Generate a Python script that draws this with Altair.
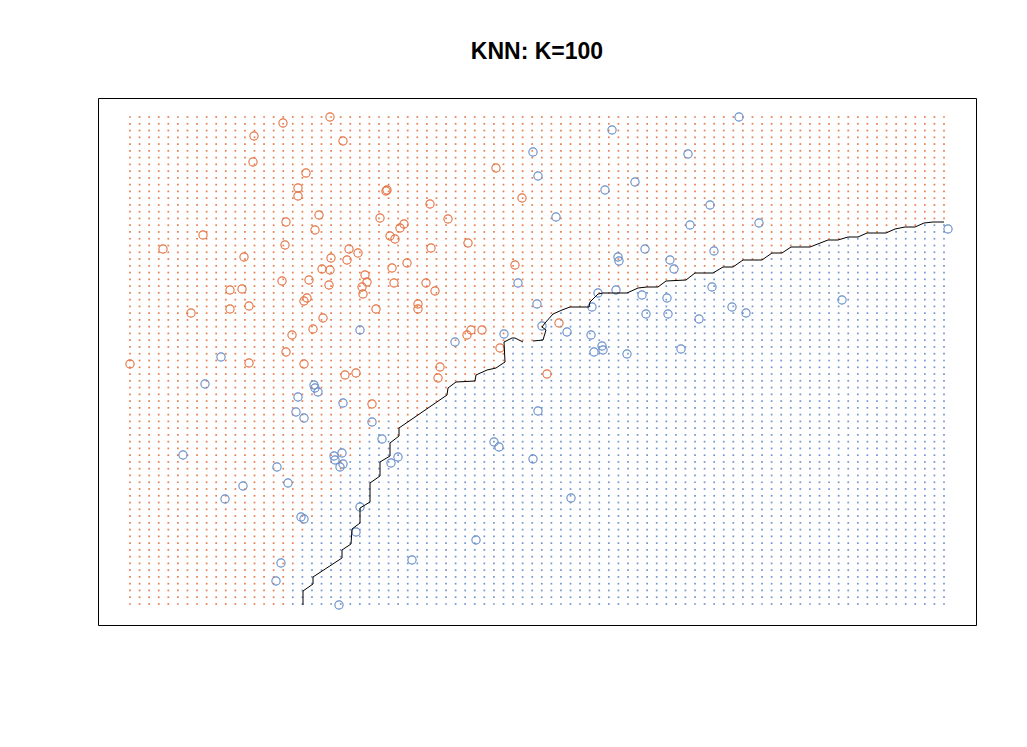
import altair as alt
import numpy as np
import pandas as pd

alt.data_transformers.disable_max_rows()

ORANGE = "#E3703F"
BLUE = "#648CC8"

# training points, orange class
orange_x1 = [2.00, 1.53, 1.24, 2.13, 1.23, 1.76, 1.68, 1.68, 2.57, 2.56,
             1.89, 2.50, 1.56, 1.85, 0.73, 2.60, 2.65, 1.55, 0.33, 2.19,
             2.28, 1.14, 2.01, 2.17, 1.92, 2.00, 2.62, 2.35, 2.37, 1.52,
             1.79, 1.99, 2.64, 2.32, 2.33, 1.00, 1.12, 1.77, 1.74, 1.00,
             1.19, 2.46, 0.61, 1.93, 1.83, 1.62, 1.56, 0.00, 1.19, 1.74,
             2.74, 2.70, 3.66, 3.92, 3.00, 3.18, 3.01, 3.38, 2.77, 3.85,
             2.96, 3.05, 2.88, 2.88, 3.52, 3.41, 3.37, 4.29, 3.70, 3.10,
             2.15, 2.26, 2.42, 3.08, 4.17]
orange_x2 = [4.87, 4.81, 4.68, 4.63, 4.42, 4.31, 4.16, 4.08, 4.14, 4.13,
             3.89, 3.86, 3.82, 3.74, 3.69, 3.68, 3.65, 3.59, 3.55, 3.55,
             3.51, 3.47, 3.46, 3.44, 3.35, 3.34, 3.36, 3.29, 3.22, 3.23,
             3.24, 3.19, 3.21, 3.17, 3.10, 3.14, 3.15, 3.06, 3.03, 2.95,
             2.98, 2.95, 2.91, 2.86, 2.75, 2.69, 2.52, 2.40, 2.41, 2.40,
             3.80, 3.76, 4.36, 4.06, 4.00, 3.85, 3.56, 3.61, 3.41, 3.39,
             3.21, 3.13, 3.00, 2.95, 2.74, 2.74, 2.69, 2.81, 2.56, 2.37,
             2.29, 2.31, 2.00, 2.26, 2.30]

# training points, blue class
blue_x1 = [2.30, 0.91, 0.75, 1.84, 1.85, 1.88, 1.68, 2.13, 1.66, 1.74,
           2.42, 2.52, 0.53, 2.12, 2.04, 2.05, 2.13, 2.10, 2.61, 2.68,
           1.47, 1.58, 1.13, 0.95, 2.30, 1.71, 1.74, 2.26, 1.51, 1.46,
           2.09, 4.82, 4.03, 5.58, 4.08, 5.05, 4.75, 4.26, 5.60, 5.15,
           4.88, 4.89, 5.40, 5.44, 3.88, 4.68, 4.86, 5.12, 5.37, 4.07,
           4.62, 5.16, 5.38, 4.12, 4.37, 4.61, 3.74, 3.25, 4.72, 4.73,
           4.64, 4.97, 5.51, 4.08, 3.64, 3.69, 4.03, 4.41, 3.46, 2.82,
           6.09, 5.80, 6.29, 5.84, 8.18, 5.82, 7.12, 6.02, 6.16, 5.69]
blue_x2 = [2.74, 2.47, 2.20, 2.19, 2.16, 2.12, 2.07, 2.01, 1.92, 1.86,
           1.82, 1.65, 1.49, 1.51, 1.48, 1.44, 1.40, 1.37, 1.41, 1.47,
           1.37, 1.21, 1.18, 1.05, 0.97, 0.87, 0.85, 0.72, 0.41, 0.23,
           -0.01, 4.74, 4.52, 4.50, 4.28, 4.22, 4.14, 3.87, 3.79, 3.55,
           3.47, 3.43, 3.44, 3.35, 3.21, 3.11, 3.14, 3.09, 3.06, 3.00,
           2.97, 2.90, 2.90, 2.78, 2.72, 2.69, 2.70, 2.62, 2.58, 2.54,
           2.52, 2.50, 2.55, 1.93, 1.62, 1.57, 1.45, 1.06, 0.64, 0.44,
           4.87, 3.99, 3.81, 3.53, 3.75, 3.17, 3.04, 2.97, 2.91, 2.85]

# K=100 decision boundary, drawn as two pieces
bound_a_x1 = [1.73, 1.73, 1.83, 1.83, 2.12, 2.12, 2.21, 2.22, 2.30, 2.30,
              2.40, 2.40, 2.50, 2.50, 2.60, 2.60, 2.69, 2.69, 3.17, 3.18,
              3.26, 3.45, 3.46, 3.57, 3.66, 3.75, 3.74, 3.82, 3.85, 3.93]
bound_a_x2 = [-0.01, 0.13, 0.20, 0.27, 0.46, 0.54, 0.60, 0.75, 0.81, 0.96,
              1.02, 1.21, 1.28, 1.42, 1.48, 1.61, 1.68, 1.76, 2.09, 2.16,
              2.22, 2.23, 2.29, 2.34, 2.36, 2.42, 2.62, 2.66, 2.66, 2.62]
bound_b_x1 = [4.03, 4.13, 4.16, 4.12, 4.15, 4.23, 4.32, 4.40, 4.59, 4.60,
              4.68, 4.73, 4.97, 5.08, 5.17, 5.28, 5.36, 5.56, 5.65, 5.83,
              5.93, 6.03, 6.13, 6.32, 6.42, 6.52, 6.61, 6.80, 6.98, 7.08,
              7.18, 7.28, 7.37, 7.56, 7.65, 7.75, 7.85, 7.94, 8.03, 8.14]
bound_b_x2 = [2.63, 2.64, 2.74, 2.77, 2.81, 2.90, 2.94, 2.97, 2.97, 3.02,
              3.10, 3.11, 3.11, 3.16, 3.17, 3.17, 3.23, 3.24, 3.31, 3.31,
              3.37, 3.37, 3.44, 3.44, 3.51, 3.51, 3.57, 3.57, 3.64, 3.64,
              3.67, 3.67, 3.71, 3.71, 3.75, 3.77, 3.77, 3.81, 3.82, 3.82]

# lower left: grid colour flips a little above the drawn contour
edge_head_x1 = [1.55, 1.64, 1.73, 1.83, 1.92, 2.02, 2.11, 2.21, 2.30, 2.40, 2.49, 2.59]
edge_head_x2 = [-0.30, 0.40, 0.74, 0.89, 1.04, 1.16, 1.24, 1.44, 1.59, 1.74, 1.79, 1.84]

# prediction grid: 86 columns x 73 rows
grid_x1 = np.linspace(0.0, 8.14, 86)
grid_x2 = np.linspace(0.0, 4.87, 73)

ex, ey = list(edge_head_x1), list(edge_head_x2)
for x, y in zip(bound_a_x1 + bound_b_x1, bound_a_x2 + bound_b_x2):
    if x > ex[-1]:
        ex.append(x)
        ey.append(y)

gx, gy = np.meshgrid(grid_x1, grid_x2)
gx, gy = gx.ravel(), gy.ravel()
grid = pd.DataFrame({
    "x1": gx,
    "x2": gy,
    "cls": np.where(gy > np.interp(gx, ex, ey), "orange", "blue"),
})

train = pd.concat([
    pd.DataFrame({"x1": orange_x1, "x2": orange_x2, "cls": "orange"}),
    pd.DataFrame({"x1": blue_x1, "x2": blue_x2, "cls": "blue"}),
], ignore_index=True)

bound = pd.concat([
    pd.DataFrame({"x1": bound_a_x1, "x2": bound_a_x2, "part": "a"}),
    pd.DataFrame({"x1": bound_b_x1, "x2": bound_b_x2, "part": "b"}),
], ignore_index=True)
bound["i"] = range(len(bound))

x_enc = alt.X("x1:Q", axis=None, scale=alt.Scale(domain=[-0.32, 8.46], nice=False, zero=False))
y_enc = alt.Y("x2:Q", axis=None, scale=alt.Scale(domain=[-0.21, 5.06], nice=False, zero=False))
color_scale = alt.Scale(domain=["orange", "blue"], range=[ORANGE, BLUE])

dots = alt.Chart(grid).mark_square(size=3, opacity=0.9).encode(
    x=x_enc, y=y_enc,
    color=alt.Color("cls:N", scale=color_scale, legend=None),
)

pts = alt.Chart(train).mark_point(shape="circle", filled=False, size=68,
                                  strokeWidth=1.1, opacity=1).encode(
    x=x_enc, y=y_enc,
    color=alt.Color("cls:N", scale=color_scale, legend=None),
)

line = alt.Chart(bound).mark_line(color="black", strokeWidth=1).encode(
    x=x_enc, y=y_enc,
    detail="part:N",
    order="i:Q",
)

chart = alt.layer(dots, pts, line).properties(
    width=878,
    height=527,
    title=alt.Title("KNN: K=100", font="Liberation Sans", fontSize=23,
                    fontWeight="bold", color="black", offset=34),
    autosize=alt.AutoSizeParams(type="none"),
    padding={"left": 90, "top": 90, "right": 40, "bottom": 100},
).configure_view(stroke="black", strokeWidth=1)

chart.save("out.html", embed_options={"renderer": "svg", "actions": False})
